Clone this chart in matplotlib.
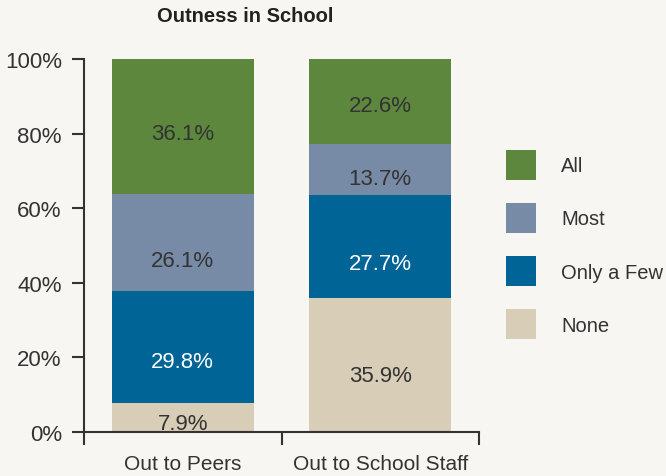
import matplotlib
matplotlib.use("Agg")
import matplotlib.pyplot as plt
import matplotlib.ticker as mticker
import numpy as np

plt.rcParams["font.family"] = ["Liberation Sans", "DejaVu Sans"]

categories = ["Out to Peers", "Out to School Staff"]
series = ["None", "Only a Few", "Most", "All"]
values = {
    "None": [7.9, 35.9],
    "Only a Few": [29.8, 27.7],
    "Most": [26.1, 13.7],
    "All": [36.1, 22.6],
}
colors = {
    "None": "#d8cdb6",
    "Only a Few": "#006496",
    "Most": "#788ba6",
    "All": "#5d873d",
}
label_colors = {
    "None": "#333333",
    "Only a Few": "#ffffff",
    "Most": "#333333",
    "All": "#333333",
}
# labels in the original sit a bit below the segment centres (pixels down)
label_nudge = {
    "None": [6, 10],
    "Only a Few": [15, 17],
    "Most": [18, 9],
    "All": [7, 4],
}
y_ticks = [0, 20, 40, 60, 80, 100]

BG = "#f8f6f2"
TXT = "#333333"

fig = plt.figure(figsize=(6.66, 4.77), dpi=100, facecolor=BG)
ax = fig.add_axes([84 / 666, 44 / 477, 395 / 666, 373 / 477])
ax.set_facecolor(BG)

x = np.arange(len(categories))
bottom = np.zeros(len(categories))
handles = {}
for s in series:
    v = np.array(values[s])
    bars = ax.bar(x, v, bottom=bottom, width=0.72, color=colors[s], label=s, zorder=2)
    handles[s] = bars
    for xi, vi, bi, dy in zip(x, v, bottom, label_nudge[s]):
        ax.annotate(f"{vi:.1f}%", xy=(xi, bi + vi / 2), xytext=(0, -dy),
                    textcoords="offset pixels", ha="center", va="center",
                    fontsize=16, color=label_colors[s], zorder=3)
    bottom += v

ax.set_ylim(0, 100)
ax.set_xlim(-0.5, 1.5)
ax.set_yticks(y_ticks)
ax.yaxis.set_major_formatter(mticker.FuncFormatter(lambda v, _: f"{v:.0f}%"))

ax.set_xticks(x)
ax.set_xticklabels(categories)
ax.set_xticks([-0.5, 0.5, 1.5], minor=True)
ax.tick_params(axis="x", which="major", length=0, pad=16, labelsize=15, labelcolor=TXT)
ax.tick_params(axis="x", which="minor", length=9, width=1.5, color=TXT, direction="out")
ax.tick_params(axis="y", length=9, width=1.5, color=TXT, labelsize=16, labelcolor=TXT, pad=7)

for side in ["top", "right"]:
    ax.spines[side].set_visible(False)
for side in ["left", "bottom"]:
    ax.spines[side].set_color(TXT)
    ax.spines[side].set_linewidth(1.5)

fig.text(245 / 666, 1 - 17 / 477, "Outness in School", ha="center", va="center",
         fontsize=14.5, fontweight="bold", color="#222222")

leg_order = ["All", "Most", "Only a Few", "None"]
fig.legend([handles[s] for s in leg_order], leg_order,
           loc="upper left", bbox_to_anchor=(506 / 666, 1 - 151 / 477),
           frameon=False, fontsize=14.5, handlelength=1.49, handleheight=1.92,
           labelspacing=1.14, handletextpad=1.24, borderpad=0, borderaxespad=0,
           labelcolor=TXT)

fig.savefig("out.png", dpi=100, facecolor=BG)
